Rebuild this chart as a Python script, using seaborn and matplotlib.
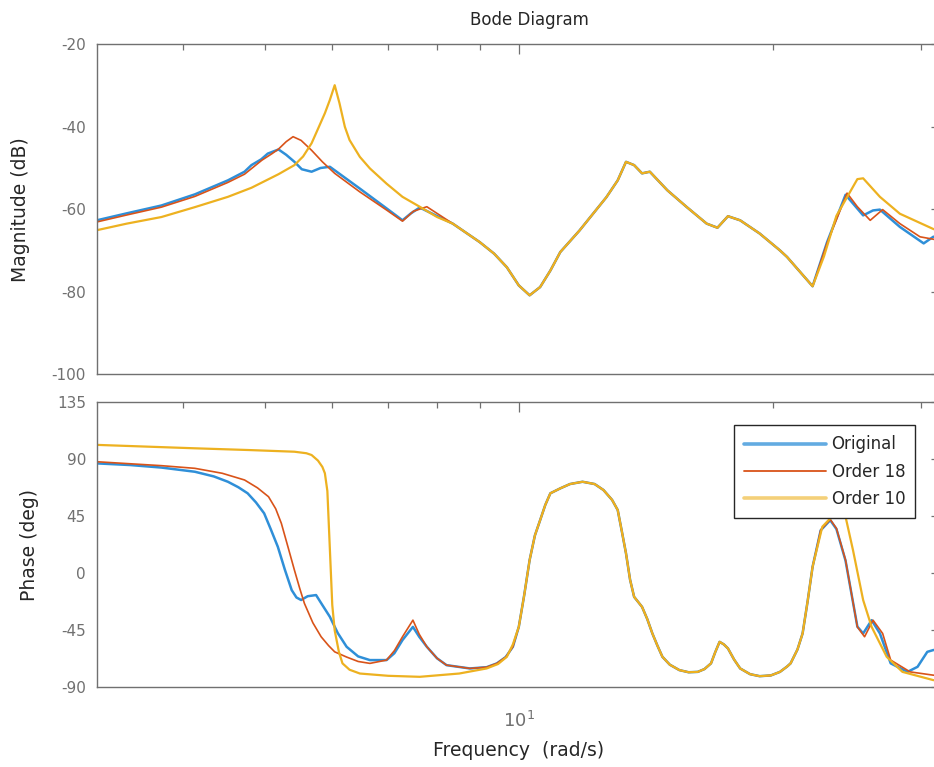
import numpy as np
import matplotlib
matplotlib.use("Agg")
import matplotlib.pyplot as plt
import seaborn as sns
from matplotlib.ticker import NullFormatter

# =========================
# Values (frequency in rad/s, magnitude in dB, phase in deg)
# =========================
# -- magnitude, low-frequency parts (series differ here)
orig_mag_f_lo = [3.16, 3.43, 3.77, 4.13, 4.52, 4.73, 4.82, 4.95, 5.04, 5.19, 5.30, 5.42, 5.53, 5.68,
                 5.82, 5.97, 6.48, 6.97, 7.28, 7.45, 7.63]
orig_mag_lo = [-62.7, -61.0, -59.1, -56.4, -53.0, -50.9, -49.3, -47.9, -46.5, -45.5, -46.8, -48.5, -50.3, -50.9,
               -50.0, -49.7, -55.0, -59.8, -62.7, -61.0, -59.6]
o18_mag_f_lo = [3.16, 3.43, 3.77, 4.13, 4.52, 4.73, 4.96, 5.10, 5.19, 5.30, 5.40, 5.52, 5.68, 5.85,
                6.05, 6.48, 6.97, 7.28, 7.50, 7.78]
o18_mag_lo = [-63.1, -61.4, -59.5, -56.9, -53.5, -51.5, -48.1, -46.5, -45.4, -43.6, -42.4, -43.3, -45.7, -48.5,
              -51.3, -55.8, -60.2, -62.9, -60.5, -59.4]
o10_mag_f_lo = [3.16, 3.43, 3.77, 4.13, 4.52, 4.82, 5.19, 5.42, 5.55, 5.68, 5.76, 5.89, 5.97, 6.05,
                6.13, 6.22, 6.30, 6.48, 6.66, 6.97, 7.28, 7.63, 8.00]
o10_mag_lo = [-65.1, -63.5, -61.9, -59.5, -57.0, -54.8, -51.5, -49.3, -47.2, -44.0, -41.2, -36.7, -33.5, -29.9,
              -34.3, -40.0, -43.2, -47.3, -50.1, -53.8, -57.0, -59.4, -61.9]

# -- magnitude, mid band where all three curves coincide
mid_mag_f = [8.35, 8.99, 9.35, 9.68, 10.0, 10.3, 10.6, 10.9, 11.2, 11.8, 12.7, 13.1, 13.4, 13.7, 14.0,
             14.3, 15.0, 15.8, 16.7, 17.2, 17.7, 18.3, 19.3, 20.4, 20.8, 22.3]
mid_mag = [-63.5, -68.0, -70.8, -74.1, -78.5, -80.9, -78.9, -74.9, -70.4, -65.2, -57.1, -53.0, -48.5, -49.3, -51.3,
           -50.9, -55.4, -59.4, -63.5, -64.5, -61.7, -62.7, -65.9, -70.0, -71.6, -78.7]

# -- magnitude, high-frequency parts
orig_mag_f_hi = [23.2, 24.4, 25.6, 26.3, 26.8, 28.3, 30.2, 31.0, 31.6]
orig_mag_hi = [-68.0, -56.5, -61.5, -60.3, -60.1, -64.3, -68.3, -66.7, -66.5]
o18_mag_f_hi = [23.2, 24.5, 25.2, 26.1, 27.0, 28.3, 29.9, 31.6]
o18_mag_hi = [-68.2, -56.1, -59.4, -62.7, -60.1, -63.5, -66.7, -67.6]
o10_mag_f_hi = [23.0, 23.8, 25.2, 25.6, 26.8, 28.3, 31.0, 31.6]
o10_mag_hi = [-71.5, -61.6, -52.7, -52.5, -57.0, -61.1, -64.8, -65.3]

# -- phase, low-frequency parts
orig_ph_f_lo = [3.16, 3.46, 3.77, 4.13, 4.35, 4.52, 4.65, 4.77, 4.88, 4.99, 5.08, 5.18, 5.28, 5.38,
                5.45, 5.52, 5.62, 5.75, 5.85, 5.97, 6.10, 6.25, 6.45, 6.66, 6.97, 7.12, 7.28, 7.49,
                7.62, 7.78, 8.00, 8.21, 8.75, 9.16, 9.42, 9.65, 9.84]
orig_ph_lo = [86.8, 85.5, 83.5, 80.2, 76.5, 72.3, 68.0, 63.2, 56.0, 47.4, 35.0, 21.0, 3.0, -13.2,
              -19.0, -21.0, -18.0, -17.1, -25.0, -34.2, -47.0, -57.9, -65.5, -68.4, -68.4, -63.0, -52.6, -42.2,
              -50.0, -57.9, -67.0, -72.4, -75.0, -74.0, -71.0, -66.0, -57.9]
o18_ph_f_lo = [3.16, 3.77, 4.13, 4.45, 4.73, 4.90, 5.05, 5.15, 5.23, 5.33, 5.42, 5.50, 5.57, 5.70,
               5.83, 5.95, 6.05, 6.25, 6.45, 6.66, 6.97, 7.12, 7.28, 7.49, 7.62, 7.78, 8.00, 8.21,
               8.75, 9.16, 9.42, 9.65, 9.84]
o18_ph_lo = [88.1, 85.0, 82.9, 79.0, 73.7, 67.5, 60.5, 51.0, 39.5, 20.0, 2.6, -12.0, -23.7, -39.0,
             -50.0, -57.0, -61.9, -66.0, -69.5, -71.0, -68.4, -61.0, -50.0, -36.9, -48.0, -57.9, -67.0, -72.4,
             -75.0, -74.0, -71.0, -66.0, -57.9]
o10_ph_f_lo = [3.16, 4.13, 4.80, 5.42, 5.60, 5.68, 5.78, 5.85, 5.89, 5.93, 5.97, 6.01, 6.05, 6.12,
               6.18, 6.30, 6.48, 7.00, 7.63, 8.50, 9.16, 9.45, 9.68, 9.84]
o10_ph_lo = [101.4, 98.7, 97.3, 96.0, 94.8, 93.4, 89.0, 84.0, 79.0, 65.0, 20.0, -25.0, -45.0, -62.0,
             -71.0, -76.0, -79.0, -80.8, -81.6, -79.0, -75.0, -71.5, -65.8, -56.0]

# -- phase, mid band (shared)
mid_ph_f = [10.0, 10.15, 10.3, 10.45, 10.6, 10.75, 10.9, 11.2, 11.5, 11.9, 12.3, 12.6, 12.9, 13.1,
            13.25, 13.4, 13.55, 13.7, 14.0, 14.2, 14.4, 14.6, 14.8, 15.1, 15.5, 15.9, 16.3, 16.6,
            16.9, 17.1, 17.3, 17.5, 17.7, 18.0, 18.3, 18.8, 19.3, 19.9, 20.4, 20.8, 21.0, 21.4,
            21.7, 22.0, 22.3]
mid_ph = [-42.2, -17.0, 10.5, 30.0, 42.0, 54.0, 63.2, 67.1, 70.5, 72.3, 70.5, 65.8, 58.0, 50.0,
          33.0, 15.8, -5.0, -18.5, -26.4, -36.0, -47.4, -57.0, -65.8, -72.0, -76.3, -78.0, -77.7, -75.5,
          -71.0, -62.0, -54.0, -56.0, -59.2, -68.0, -75.0, -79.5, -81.1, -80.5, -77.7, -73.5, -71.0, -60.0,
          -47.4, -22.0, 5.2]

# -- phase, high-frequency parts
orig_ph_f_hi = [22.8, 23.4, 23.8, 24.4, 25.2, 25.6, 26.2, 26.8, 27.6, 28.9, 29.7, 30.5, 31.0, 31.6]
orig_ph_hi = [34.0, 42.0, 35.0, 10.0, -42.0, -47.4, -36.9, -47.4, -71.0, -77.7, -73.7, -61.9, -60.5, -60.0]
o18_ph_f_hi = [22.8, 23.4, 23.8, 24.4, 25.2, 25.7, 26.3, 27.0, 27.6, 29.1, 31.0, 31.6]
o18_ph_hi = [34.2, 42.6, 35.5, 10.5, -42.2, -50.0, -36.9, -47.4, -68.4, -77.7, -80.3, -80.5]
o10_ph_f_hi = [22.9, 23.4, 23.9, 24.4, 24.9, 25.6, 26.2, 27.3, 28.5, 31.0, 31.6]
o10_ph_hi = [36.8, 43.4, 48.0, 44.7, 18.4, -21.0, -42.2, -65.8, -77.7, -84.2, -84.5]

labels = ["Original", "Order 18", "Order 10"]
colors = ["#2f8fd8", "#d95319", "#edb120"]
widths = [1.8, 1.2, 1.6]

mag_series = [
    (orig_mag_f_lo + mid_mag_f + orig_mag_f_hi, orig_mag_lo + mid_mag + orig_mag_hi),
    (o18_mag_f_lo + mid_mag_f + o18_mag_f_hi, o18_mag_lo + mid_mag + o18_mag_hi),
    (o10_mag_f_lo + mid_mag_f + o10_mag_f_hi, o10_mag_lo + mid_mag + o10_mag_hi),
]
ph_series = [
    (orig_ph_f_lo + mid_ph_f + orig_ph_f_hi, orig_ph_lo + mid_ph + orig_ph_hi),
    (o18_ph_f_lo + mid_ph_f + o18_ph_f_hi, o18_ph_lo + mid_ph + o18_ph_hi),
    (o10_ph_f_lo + mid_ph_f + o10_ph_f_hi, o10_ph_lo + mid_ph + o10_ph_hi),
]

# =========================
# Style
# =========================
sns.set_theme(style="white")
plt.rcParams["font.family"] = ["DejaVu Sans"]
plt.rcParams["mathtext.default"] = "regular"
plt.rcParams["axes.unicode_minus"] = False

grey = "#707070"
dark = "#262626"

fig = plt.figure(figsize=(9.34, 7.67), dpi=100)
ax_mag = fig.add_axes([0.1039, 0.5124, 0.9031, 0.4297])
ax_ph = fig.add_axes([0.1039, 0.1037, 0.9031, 0.3718])

for (f, v), lab, c, w in zip(mag_series, labels, colors, widths):
    sns.lineplot(x=f, y=v, ax=ax_mag, color=c, linewidth=w, estimator=None, sort=False, legend=False)
for (f, v), lab, c, w in zip(ph_series, labels, colors, widths):
    sns.lineplot(x=f, y=v, ax=ax_ph, color=c, linewidth=w, estimator=None, sort=False, label=lab)

for ax in (ax_mag, ax_ph):
    ax.set_xscale("log")
    ax.set_xlim(10 ** 0.5, 10 ** 1.5)
    ax.set_xticks([10])
    ax.set_xticks([4, 5, 6, 7, 8, 9, 20, 30], minor=True)
    ax.xaxis.set_minor_formatter(NullFormatter())
    ax.tick_params(which="both", direction="in", top=True, right=True, color=grey,
                   labelcolor=grey, labelsize=11, width=0.9)
    ax.tick_params(which="major", length=7, pad=8)
    ax.tick_params(which="minor", length=4.5)
    for s in ax.spines.values():
        s.set_color(grey)
        s.set_linewidth(1.0)

ax_mag.set_ylim(-100, -20)
ax_mag.set_yticks([-100, -80, -60, -40, -20])
ax_mag.set_xticklabels([])
ax_mag.set_title("Bode Diagram", fontsize=12, color=dark, pad=14, x=0.513)
ax_mag.set_ylabel("Magnitude (dB)", fontsize=13.5, color=dark)
ax_mag.yaxis.set_label_coords(-0.080, 0.5)

ax_ph.set_ylim(-90, 135)
ax_ph.set_yticks([-90, -45, 0, 45, 90, 135])
ax_ph.set_xticklabels(["$10^1$"])
ax_ph.tick_params(axis="x", which="major", pad=17, labelsize=13)
ax_ph.set_ylabel("Phase (deg)", fontsize=13.5, color=dark)
ax_ph.yaxis.set_label_coords(-0.069, 0.5)
ax_ph.set_xlabel("Frequency  (rad/s)", fontsize=13.5, color=dark)
ax_ph.xaxis.set_label_coords(0.5, -0.187)

leg = ax_ph.legend(loc="upper right", bbox_to_anchor=(0.970, 0.919), borderaxespad=0,
                   fontsize=12, handlelength=4.9, labelspacing=0.55, fancybox=False,
                   framealpha=1, edgecolor="#262626", borderpad=0.6, handletextpad=0.35)
leg.get_frame().set_linewidth(1.0)
for line, w in zip(leg.get_lines(), [2.6, 1.3, 2.6]):
    line.set_linewidth(w)
leg.get_lines()[0].set_alpha(0.75)
leg.get_lines()[2].set_alpha(0.6)

fig.savefig("out.png", dpi=100)
